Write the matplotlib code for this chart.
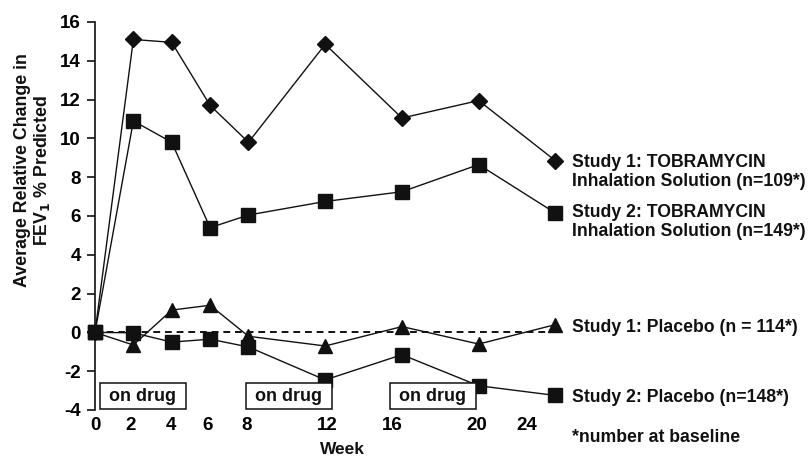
import matplotlib
matplotlib.use("Agg")
import matplotlib.pyplot as plt

plt.rcParams['font.family'] = ['Liberation Sans', 'DejaVu Sans']
plt.rcParams['font.weight'] = 'bold'

weeks = [0, 2, 4, 6, 8, 12, 16, 20, 24]
study1_tobi = [0, 15.1, 14.95, 11.7, 9.8, 14.85, 11.05, 11.95, 8.85]
study2_tobi = [0, 10.9, 9.8, 5.4, 6.05, 6.75, 7.25, 8.65, 6.15]
study1_placebo = [0, -0.65, 1.15, 1.4, -0.2, -0.7, 0.3, -0.6, 0.4]
study2_placebo = [0, -0.02, -0.5, -0.35, -0.75, -2.45, -1.15, -2.75, -3.25]

tick_pos = [0, 1.85, 3.95, 5.85, 7.9, 12.1, 15.5, 19.9, 22.5]
tick_labels = ['0', '2', '4', '6', '8', '12', '16', '20', '24']

drug_label_x = [2.5, 10.1, 17.6]

labels = [
    "Study 1: TOBRAMYCIN\nInhalation Solution (n=109*)",
    "Study 2: TOBRAMYCIN\nInhalation Solution (n=149*)",
    "Study 1: Placebo (n = 114*)",
    "Study 2: Placebo (n=148*)",
]

fig = plt.figure(figsize=(8.09, 4.59), dpi=100)
ax = fig.add_axes([95/809, 1-410/459, (565-95)/809, (410-22)/459])
ax.set_xlim(0, 24.5)
ax.set_ylim(-4, 16)

col = '#111111'
lw = 1.0
ax.plot([0, 24], [0, 0], ls=(0, (3.5, 2.5)), color=col, lw=1.4, zorder=1)
ax.plot(weeks, study1_tobi, marker='D', ms=8.5, color=col, lw=lw, clip_on=False, zorder=3)
ax.plot(weeks, study2_tobi, marker='s', ms=10, color=col, lw=lw, clip_on=False, zorder=3)
ax.plot(weeks, study1_placebo, marker='^', ms=10.5, color=col, lw=lw, clip_on=False, zorder=3)
ax.plot(weeks, study2_placebo, marker='s', ms=10, color=col, lw=lw, clip_on=False, zorder=3)

for s in ['top', 'right', 'bottom']:
    ax.spines[s].set_visible(False)
ax.spines['left'].set_linewidth(1.2)
ax.spines['left'].set_color(col)

ax.set_yticks(range(-4, 17, 2))
ax.set_yticklabels([str(v) for v in range(-4, 17, 2)])
ax.tick_params(axis='y', length=6, width=1.2, pad=4, labelsize=13.5, color=col)
ax.set_xticks(tick_pos)
ax.set_xticklabels(tick_labels)
ax.tick_params(axis='x', length=0, pad=5, labelsize=13.5)

for x in drug_label_x:
    ax.text(x, -3.3, ' on drug ', ha='center', va='center', fontsize=13,
            fontweight='bold', color=col,
            bbox=dict(boxstyle='square,pad=0.25', fc='white', ec=col, lw=1.1))

fs = 12.7
lx = 572/809
fig.text(lx, 1-172/459, labels[0], ha='left', va='center', fontsize=fs, linespacing=1.2, color=col)
fig.text(lx, 1-222/459, labels[1], ha='left', va='center', fontsize=fs, linespacing=1.2, color=col)
fig.text(lx, 1-327/459, labels[2], ha='left', va='center', fontsize=fs, color=col)
fig.text(lx, 1-397/459, labels[3], ha='left', va='center', fontsize=fs, color=col)
fig.text(lx, 1-437/459, "*number at baseline", ha='left', va='center', fontsize=fs, color=col)

fig.text(33/809, 1-170/459, "Average Relative Change in\nFEV$_\\mathbf{1}$ % Predicted",
         rotation=90, ha='center', va='center', multialignment='center', fontsize=12.8, color=col,
         linespacing=1.05)
fig.text(342/809, 1-450/459, "Week", ha='center', va='center', fontsize=12.5, color=col)

fig.savefig("out.png", dpi=100)
